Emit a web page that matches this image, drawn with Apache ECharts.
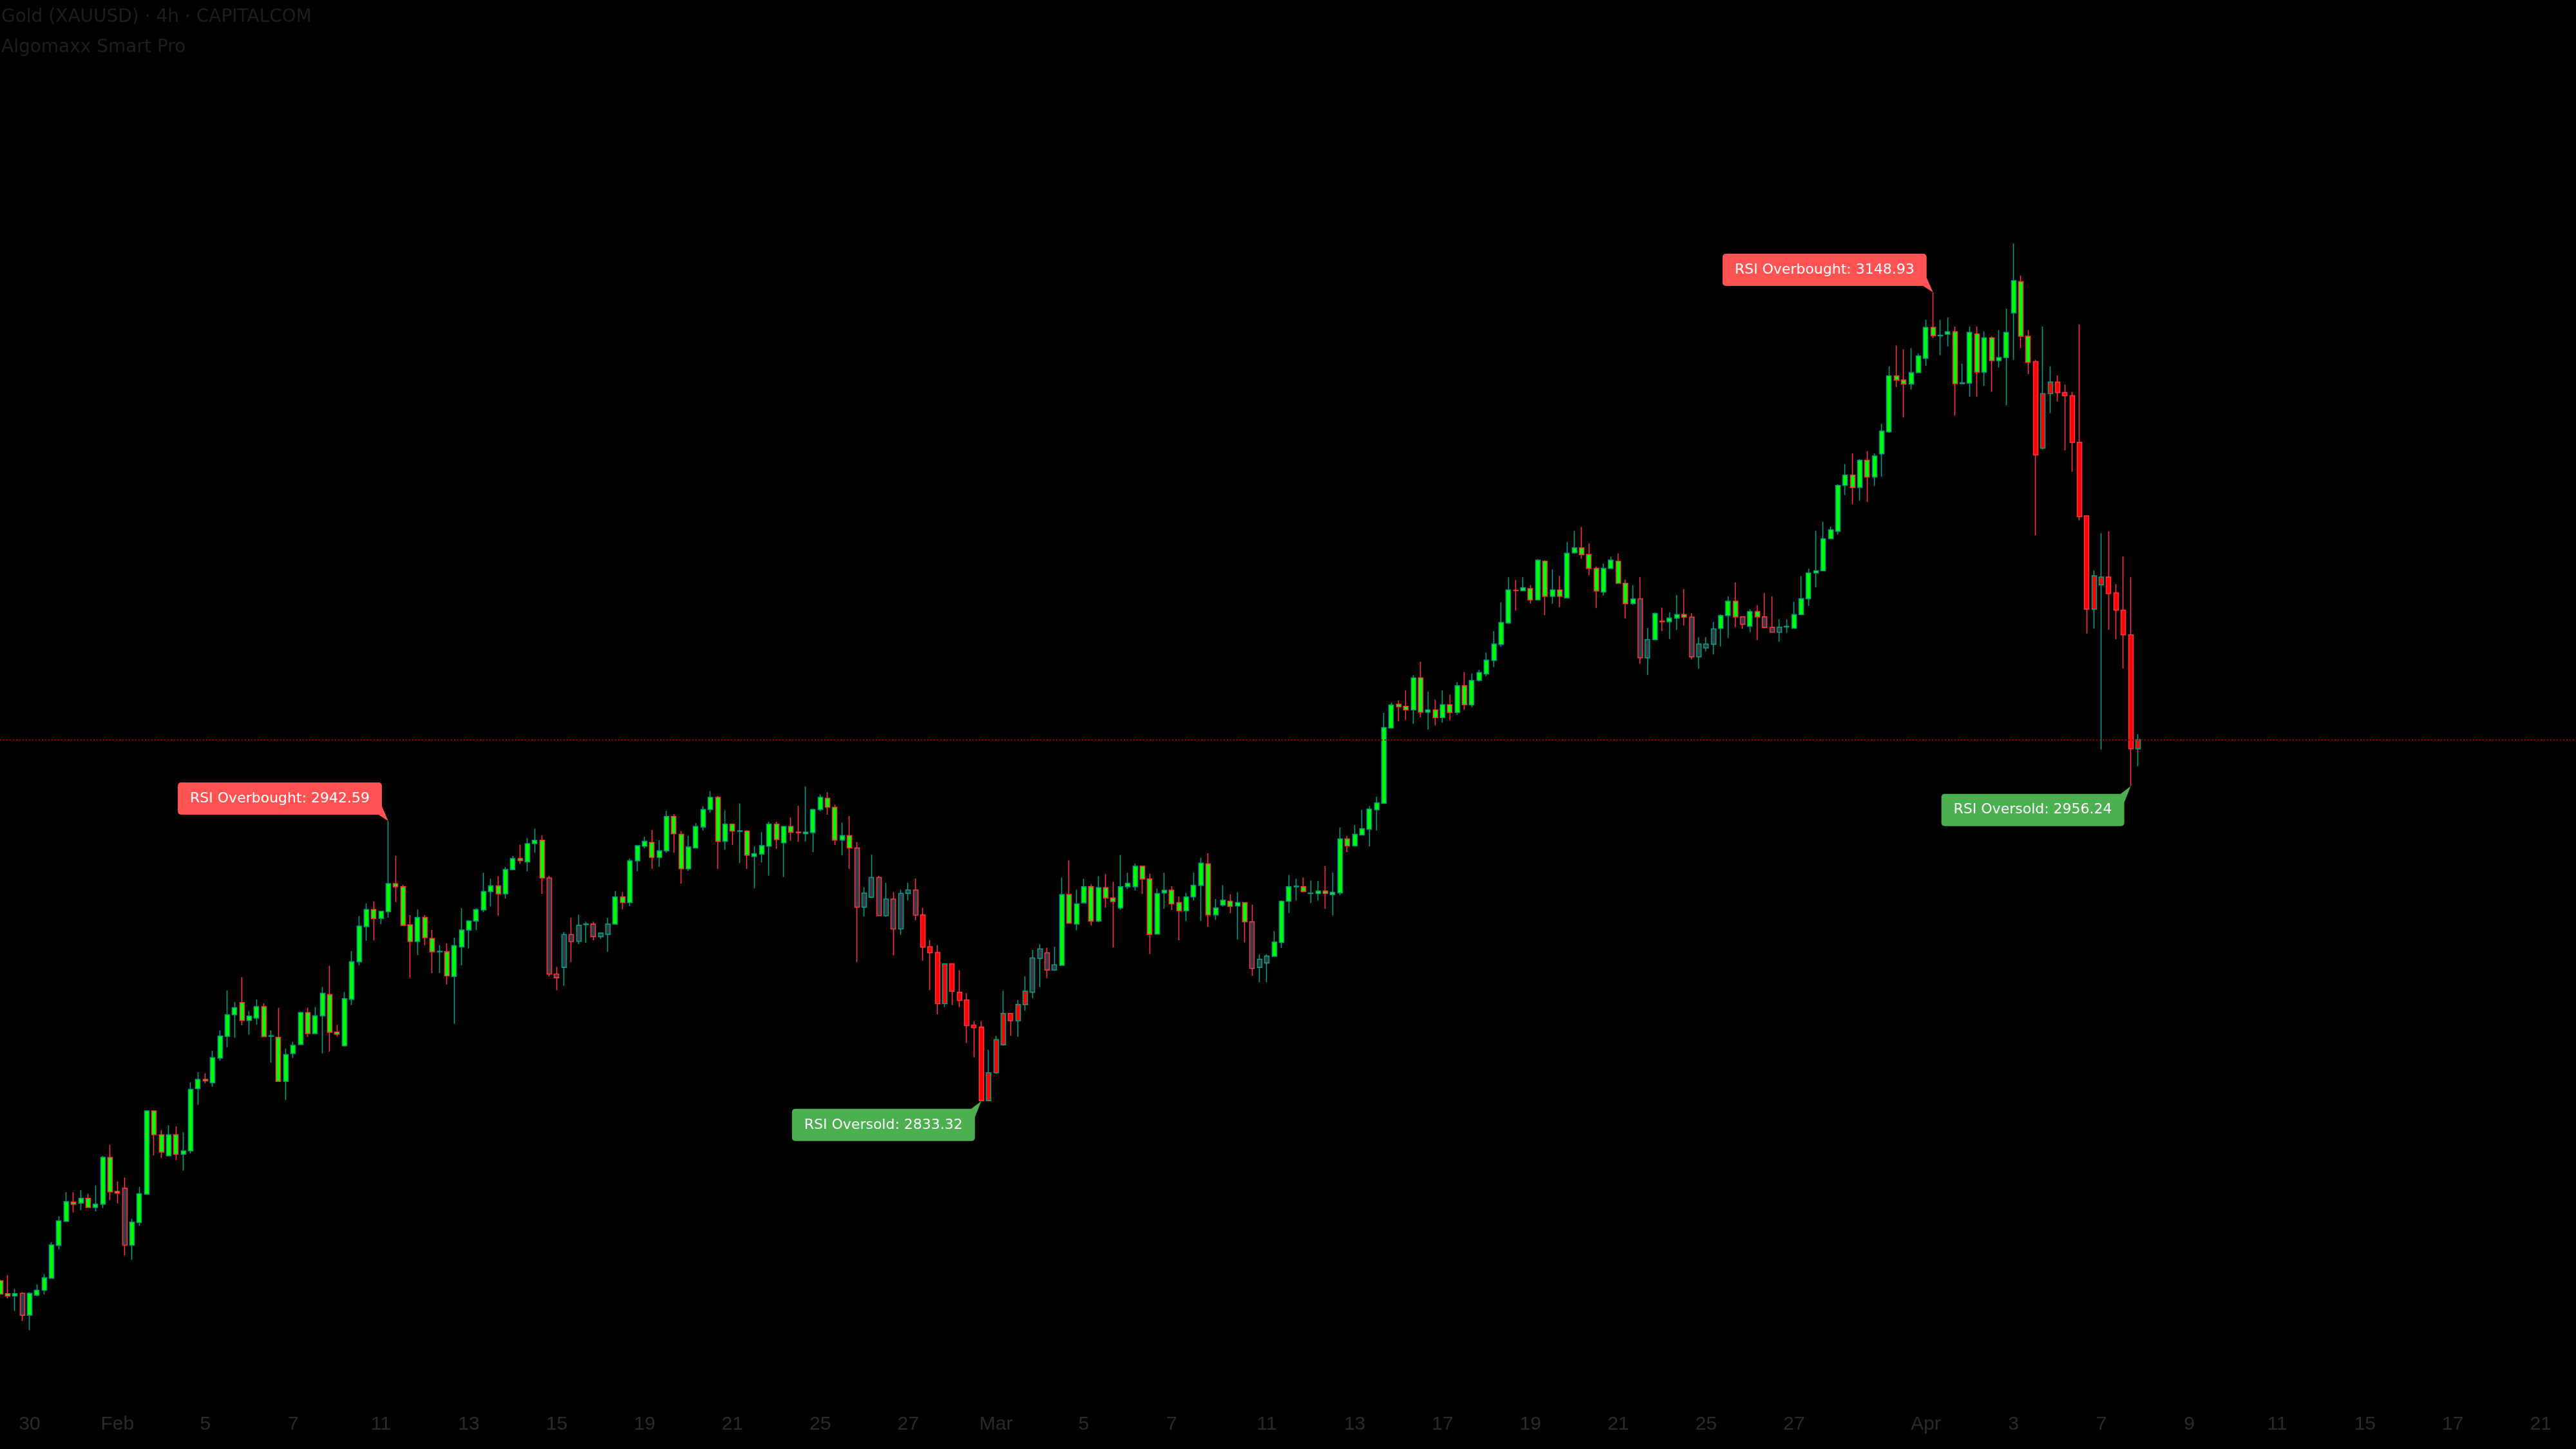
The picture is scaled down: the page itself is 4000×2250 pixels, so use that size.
<!DOCTYPE html>
<html><head><meta charset="utf-8">
<script src="https://cdn.jsdelivr.net/npm/echarts@6/dist/echarts.min.js"></script>
<style>html,body{margin:0;padding:0;background:#000;}#c{width:4000px;height:2250px;}</style>
</head><body><div id="c"></div>
<script>
// ---- data (Gold XAUUSD 4h) ----
const opens = [
2763.2,2758.2,2757.3,2758.3,2749.8,2757.6,2759.5,2764.2,2777.0,2786.4,
2793.9,2793.5,2795.4,2791.8,2793.1,2811.3,2798.1,2799.3,2777.1,2786.0,
2797.0,2829.5,2820.2,2812.0,2820.2,2812.6,2813.9,2838.2,2841.8,2840.5,
2850.1,2858.6,2867.0,2871.8,2864.8,2865.7,2870.2,2858.6,2858.2,2841.0,
2851.9,2855.4,2867.9,2859.7,2866.6,2874.9,2860.3,2854.9,2873.0,2887.7,
2901.4,2908.1,2904.6,2907.2,2918.2,2917.0,2902.1,2895.6,2905.0,2896.8,
2891.6,2891.6,2882.0,2893.5,2900.1,2903.6,2907.9,2915.1,2917.3,2914.2,
2923.7,2928.0,2926.7,2933.8,2935.1,2920.4,2882.9,2885.5,2898.3,2895.7,
2902.2,2902.4,2897.5,2898.4,2902.4,2913.0,2910.8,2927.1,2932.8,2934.3,
2928.4,2931.0,2944.4,2937.4,2924.0,2932.1,2940.3,2947.1,2951.9,2934.7,
2941.4,2938.6,2938.7,2928.8,2929.7,2932.8,2941.4,2934.1,2940.5,2938.3,
2937.7,2938.1,2947.1,2951.5,2948.0,2935.2,2936.9,2932.1,2909.0,2912.9,
2920.6,2905.7,2912.2,2900.5,2914.4,2915.7,2906.0,2893.6,2891.3,2871.4,
2886.9,2875.8,2872.8,2863.0,2862.2,2833.5,2844.4,2855.3,2867.5,2864.7,
2871.0,2875.8,2889.0,2891.2,2884.5,2886.3,2913.9,2902.4,2910.7,2917.0,
2903.6,2916.6,2912.6,2908.7,2917.0,2917.0,2925.0,2920.0,2898.5,2914.6,
2915.6,2910.8,2907.6,2913.0,2917.5,2925.9,2906.0,2909.8,2911.3,2909.5,
2910.8,2903.3,2885.5,2887.2,2889.8,2895.2,2911.3,2917.0,2917.0,2914.3,
2914.3,2915.3,2913.9,2914.6,2935.6,2932.9,2937.2,2939.4,2947.0,2949.5,
2978.9,2988.2,2987.4,2986.0,2998.5,2985.1,2986.0,2983.0,2988.0,2985.0,
2995.4,2988.0,2997.5,3000.0,3005.3,3011.5,3019.9,3032.7,3032.5,3033.3,
3028.9,3044.0,3030.3,3032.8,3029.7,3047.3,3049.2,3046.6,3041.2,3032.0,
3041.2,3044.0,3035.4,3027.5,3029.3,3006.3,3013.4,3020.6,3020.4,3021.8,
3023.2,3022.2,3006.7,3010.2,3011.6,3017.8,3022.8,3028.4,3022.3,3018.6,
3024.4,3022.3,3018.2,3016.3,3018.4,3017.8,3023.2,3029.4,3039.4,3040.3,
3052.8,3055.7,3073.6,3077.6,3072.8,3083.4,3076.9,3085.9,3094.5,3116.3,
3114.7,3113.2,3117.6,3123.2,3135.3,3132.0,3132.6,3133.6,3113.3,3113.5,
3132.7,3117.8,3131.2,3122.3,3123.5,3140.9,3153.1,3131.8,3121.9,3088.1,
3109.4,3113.9,3109.8,3108.6,3090.4,3061.7,3025.3,3034.8,3037.8,3031.7,
3024.9,3015.3,2970.8
];
const closes = [
2758.0,2757.3,2758.2,2749.8,2758.3,2759.5,2764.4,2777.2,2786.6,2794.1,
2793.1,2795.4,2791.8,2793.1,2811.4,2797.9,2797.4,2777.1,2786.1,2797.2,
2829.5,2820.2,2813.4,2820.2,2812.6,2813.9,2837.9,2841.8,2841.2,2850.3,
2858.7,2867.0,2869.8,2864.8,2866.5,2870.2,2858.5,2858.8,2841.0,2851.5,
2855.1,2867.9,2859.7,2866.6,2875.4,2860.2,2859.4,2873.3,2887.7,2901.6,
2908.1,2904.6,2907.4,2918.2,2917.0,2901.9,2895.6,2905.0,2897.1,2891.6,
2891.8,2882.2,2894.0,2900.1,2903.6,2908.1,2915.1,2917.3,2914.2,2923.7,
2928.0,2927.2,2933.8,2935.1,2920.4,2882.9,2881.5,2898.3,2895.6,2901.9,
2902.4,2897.5,2898.9,2902.4,2913.0,2910.8,2927.1,2933.0,2934.7,2928.4,
2931.0,2944.4,2937.7,2924.0,2932.5,2940.5,2947.1,2951.9,2934.7,2941.4,
2938.7,2938.8,2929.3,2929.9,2933.0,2941.4,2935.4,2940.5,2938.3,2938.1,
2938.3,2947.1,2951.9,2948.0,2935.2,2936.9,2932.1,2909.0,2914.5,2920.6,
2905.7,2912.2,2900.5,2914.4,2915.7,2905.9,2893.4,2891.2,2871.4,2886.9,
2876.2,2872.6,2862.8,2862.0,2833.5,2844.4,2857.3,2867.5,2864.7,2871.0,
2876.2,2889.2,2892.7,2884.5,2886.5,2913.9,2902.8,2910.3,2917.0,2903.6,
2916.6,2912.6,2911.2,2917.0,2918.3,2925.0,2920.0,2898.4,2914.3,2915.6,
2910.3,2907.6,2913.0,2917.5,2926.2,2906.0,2908.7,2911.7,2909.3,2910.8,
2903.3,2885.1,2888.7,2889.9,2895.4,2911.3,2917.0,2917.2,2915.1,2914.5,
2915.3,2914.3,2914.8,2935.6,2932.9,2937.4,2939.6,2947.3,2949.7,2979.1,
2987.9,2987.2,2986.0,2998.5,2985.1,2986.0,2983.0,2988.0,2985.0,2995.4,
2988.0,2997.5,3000.6,3005.4,3011.7,3020.1,3032.8,3032.6,3033.7,3028.9,
3044.4,3030.3,3032.8,3030.3,3047.1,3049.2,3046.6,3041.2,3032.4,3041.2,
3044.4,3035.4,3027.5,3029.3,3006.3,3013.4,3023.6,3020.4,3021.8,3023.2,
3022.2,3006.7,3011.7,3011.7,3017.6,3022.8,3028.4,3022.3,3019.4,3024.4,
3022.3,3018.2,3016.3,3018.2,3018.6,3023.2,3029.4,3039.4,3040.3,3052.8,
3056.3,3073.6,3077.6,3072.8,3083.4,3076.9,3085.1,3094.8,3116.3,3114.7,
3113.2,3117.6,3124.1,3135.3,3132.0,3132.2,3133.6,3113.3,3113.6,3133.3,
3117.8,3131.2,3122.3,3123.5,3133.3,3153.5,3131.8,3121.6,3085.5,3109.4,
3113.9,3109.8,3108.6,3090.4,3061.4,3025.3,3038.3,3037.8,3031.4,3024.9,
3015.3,2970.8,2974.4
];
const lows = [
2757.9,2756.3,2751.4,2747.5,2743.9,2757.1,2757.9,2764.2,2775.4,2786.3,
2789.9,2790.8,2791.6,2790.3,2791.6,2794.7,2793.4,2773.1,2771.3,2784.7,
2797.0,2812.1,2811.1,2811.8,2810.3,2806.2,2812.9,2831.9,2840.3,2838.9,
2849.1,2854.3,2858.0,2862.9,2859.2,2863.2,2858.2,2848.3,2841.0,2833.7,
2850.2,2855.4,2858.4,2859.7,2851.9,2852.6,2858.6,2854.9,2870.8,2886.3,
2895.9,2895.9,2902.4,2904.9,2911.0,2901.6,2881.5,2890.3,2894.0,2883.3,
2883.3,2878.8,2863.4,2886.3,2892.9,2899.9,2907.0,2909.3,2905.7,2912.4,
2923.6,2925.9,2923.0,2930.2,2914.2,2882.0,2876.6,2878.3,2887.6,2894.6,
2895.1,2896.1,2896.6,2891.6,2902.3,2908.1,2909.4,2923.0,2931.9,2923.9,
2924.8,2930.2,2930.2,2918.2,2923.1,2931.9,2938.9,2945.9,2923.9,2931.4,
2933.2,2926.1,2923.9,2916.4,2926.5,2921.3,2931.8,2920.8,2934.9,2934.5,
2934.6,2930.5,2946.4,2945.1,2933.2,2929.2,2923.9,2887.6,2905.4,2912.5,
2905.6,2905.3,2890.2,2898.2,2911.6,2903.9,2888.1,2876.6,2867.2,2870.0,
2870.8,2870.0,2856.1,2850.4,2833.32,2833.4,2844.0,2855.0,2858.8,2858.4,
2868.6,2873.5,2877.8,2881.4,2884.2,2886.2,2902.6,2900.0,2910.6,2901.8,
2903.2,2908.8,2893.3,2908.0,2916.0,2915.5,2914.1,2890.7,2898.4,2908.4,
2907.9,2896.1,2903.6,2911.6,2903.6,2901.4,2904.0,2909.3,2906.7,2896.4,
2895.2,2882.2,2879.7,2879.7,2889.6,2893.0,2906.7,2911.6,2914.8,2910.6,
2911.6,2908.4,2905.8,2913.7,2930.5,2932.8,2937.1,2932.7,2938.9,2949.4,
2978.8,2981.5,2982.0,2980.5,2983.1,2978.3,2980.0,2981.0,2982.0,2984.0,
2986.0,2987.0,2997.0,2999.1,3002.7,3010.6,3019.5,3024.7,3032.4,3027.5,
3028.8,3023.0,3027.5,3026.1,3029.6,3046.9,3045.0,3038.5,3025.7,3030.6,
3041.0,3035.3,3021.6,3027.0,3004.0,2999.6,3013.3,3016.7,3013.6,3017.2,
3019.0,3005.7,3002.1,3008.8,3007.6,3010.7,3014.1,3018.2,3017.6,3016.3,
3013.2,3017.8,3016.1,3012.6,3016.1,3017.7,3023.1,3026.6,3033.8,3040.2,
3052.7,3054.4,3069.8,3066.3,3067.6,3067.2,3073.4,3076.9,3094.1,3112.0,
3100.1,3111.0,3117.5,3120.3,3131.1,3124.4,3127.8,3100.8,3113.2,3108.2,
3108.2,3112.4,3110.1,3119.6,3104.8,3122.6,3127.2,3117.0,3054.1,3087.6,
3101.8,3106.3,3087.3,3078.9,3059.9,3015.8,3017.7,2970.4,3017.3,3013.5,
3002.1,2956.24,2964.0
];
const highs = [
2763.6,2765.5,2760.0,2758.7,2758.7,2761.8,2765.8,2778.3,2788.4,2797.8,
2797.8,2798.6,2797.2,2800.4,2811.9,2816.3,2802.0,2803.5,2787.4,2799.9,
2829.8,2829.8,2822.0,2823.9,2823.4,2821.2,2840.6,2844.6,2844.2,2853.0,
2860.9,2876.5,2872.0,2881.7,2868.4,2873.0,2871.5,2860.9,2869.7,2853.8,
2856.4,2868.2,2869.8,2870.1,2877.8,2886.2,2863.1,2875.9,2891.8,2905.5,
2910.5,2911.3,2907.6,2942.59,2929.0,2917.7,2905.9,2908.1,2905.9,2900.1,
2894.2,2894.9,2897.1,2908.6,2904.0,2908.6,2922.4,2920.1,2921.1,2924.7,
2929.0,2933.4,2936.0,2939.7,2937.0,2921.3,2885.7,2899.3,2904.8,2906.1,
2903.3,2903.3,2899.0,2904.8,2915.3,2914.9,2928.0,2933.2,2936.5,2939.1,
2935.2,2946.6,2945.3,2938.7,2936.9,2941.8,2948.4,2954.3,2952.4,2946.8,
2941.6,2949.5,2939.0,2932.7,2938.4,2942.4,2942.4,2940.6,2944.0,2948.6,
2956.1,2947.5,2953.0,2953.9,2949.0,2942.0,2944.6,2934.4,2916.8,2929.5,
2921.2,2918.5,2914.9,2915.8,2918.5,2920.2,2908.7,2896.3,2894.2,2887.0,
2887.0,2884.4,2875.4,2864.5,2864.5,2853.4,2858.8,2876.4,2867.6,2872.8,
2882.1,2892.3,2894.6,2893.2,2893.6,2920.6,2927.3,2915.8,2920.1,2917.9,
2921.1,2921.9,2918.9,2929.4,2922.5,2926.0,2925.1,2922.1,2916.3,2922.5,
2917.2,2913.2,2914.6,2922.5,2928.3,2930.0,2912.2,2917.5,2914.0,2914.8,
2910.9,2910.0,2890.6,2890.6,2899.7,2911.7,2921.6,2920.1,2920.6,2919.4,
2919.2,2925.0,2922.5,2940.1,2936.9,2941.1,2946.9,2948.5,2952.1,2984.8,
2988.9,2989.7,2993.7,2999.5,3004.8,2993.2,2990.0,2993.7,2991.9,2996.8,
3000.8,3000.2,3001.7,3008.4,3016.7,3028.0,3037.8,3036.6,3037.8,3034.7,
3044.8,3044.4,3040.9,3038.3,3051.5,3055.9,3057.4,3051.1,3042.0,3043.1,
3045.8,3047.1,3036.8,3034.7,3037.8,3018.0,3024.0,3025.9,3024.1,3030.8,
3033.1,3023.7,3014.4,3014.4,3020.3,3023.2,3030.3,3035.7,3022.4,3025.3,
3026.9,3031.6,3030.3,3021.3,3021.3,3028.2,3038.2,3041.1,3055.9,3059.4,
3057.6,3074.1,3081.9,3086.1,3083.8,3086.9,3086.1,3097.6,3120.1,3128.2,
3126.6,3127.2,3125.1,3138.2,3148.93,3138.2,3139.1,3135.6,3121.1,3135.6,
3135.6,3133.7,3131.8,3134.2,3142.6,3168.0,3155.5,3134.2,3122.6,3135.6,
3120.0,3116.5,3112.9,3110.1,3136.5,3061.8,3040.4,3055.0,3055.6,3035.1,
3045.9,3037.8,2976.5
];
// body fill state per candle: G = bullish trend, R = bearish trend, N = neutral
const fillState = [
'GGGNGGGGGG','GGGGGGGNGG','GGGGGGGGGG','GGGGGGGGGG','GGGGGGGGGG',
'GGGGGGGGGG','GGGGGGGGGG','GGGGGNNNNN','NNNNGGGGGG','GGGGGGGGGG',
'GGGGGGGGGG','GGGGGGGNNN','NNNNNNRRRR','RRRRRRRRRR','RNNNNGGGGG',
'GGGGGGGGGG','GGGGGGGGGG','GNNNGGGGGG','GGGGGGGGGG','GGGGGGGGGG',
'GGGGGGGGGG','GGGGGGGGGG','GGGGNNGGGG','GNNNNGGGNG','GNNNNGGGGG',
'GGGGGGGGGG','GGGGGGGGGG','GGGGGGGGRR','RRRRRRRRRR','RRR'
].join('').split('');
const slotCount = 353;   // bars + empty future bars on the time axis
const tickIdx  = [4,16,28,40,52,64,76,88,100,112,124,136,148,160,173,185,197,209,221,233,245,263,275,287,299,311,323,335,347];
const tickText = ['30','Feb','5','7','11','13','15','19','21','25','27','Mar','5','7','11','13','17','19','21','25','27','Apr','3','7','9','11','15','17','21'];
const signalIdx   = [53, 134, 264, 291];
const signalPrice = [2942.59, 2833.32, 3148.93, 2956.24];
const signalKind  = ['ob', 'os', 'ob', 'os'];

// ---- styling ----
const FILL = { G: '#00ff00', R: '#ff0000', N: '#363a45' };
const UP_BORDER = '#089981', DOWN_BORDER = '#f23645';
const tickMap = {};
tickIdx.forEach((ix, k) => { tickMap[ix] = tickText[k]; });
const cats = Array.from({ length: slotCount }, (_, i) => 'b' + i);
const candleData = opens.map((o, i) => {
  const f = FILL[fillState[i]];
  return { value: [o, closes[i], lows[i], highs[i]], itemStyle: { color: f, color0: f } };
});

const LABEL_FONT = 'DejaVu Sans';
const LABEL_SIZE = 22;
const mctx = document.createElement('canvas').getContext('2d');
function textW(t) { mctx.font = LABEL_SIZE + 'px "' + LABEL_FONT + '"'; return mctx.measureText(t).width; }

const yMin = 2715.15, yMax = 3263.02;

const chart = echarts.init(document.getElementById('c'), null, { renderer: 'canvas' });
chart.setOption({
  animation: false,
  backgroundColor: '#000000',
  grid: { left: -5.18, top: 0, width: 4012.9, height: 2180, containLabel: false, outerBoundsMode: 'none' },
  xAxis: {
    type: 'category', data: cats, boundaryGap: true,
    axisLine: { show: false }, axisTick: { show: false }, splitLine: { show: false },
    axisLabel: {
      interval: (i) => tickMap[i] !== undefined,
      formatter: (v, i) => tickMap[i] || '',
      color: '#2a2a2a', fontSize: 30, fontFamily: 'Liberation Sans', margin: 17
    }
  },
  yAxis: { type: 'value', min: yMin, max: yMax, show: false, splitLine: { show: false } },
  graphic: [
    { type: 'text', left: 2, top: 13, style: { text: 'Gold (XAUUSD) · 4h · CAPITALCOM', fill: '#1e1e1e', fontSize: 28, fontFamily: 'DejaVu Sans' } },
    { type: 'text', left: 2, top: 60, style: { text: 'Algomaxx Smart Pro', fill: '#1e1e1e', fontSize: 28, fontFamily: 'DejaVu Sans' } }
  ],
  series: [
    {
      type: 'candlestick',
      data: candleData,
      barWidth: 7.5,
      itemStyle: { borderColor: UP_BORDER, borderColor0: DOWN_BORDER, borderWidth: 1.6 },
      markLine: {
        symbol: 'none', silent: true, label: { show: false },
        lineStyle: { color: '#b00000', type: [2, 3], width: 2 },
        data: [{ yAxis: closes[closes.length - 1] }]
      }
    },
    {
      type: 'custom',
      z: 10,
      data: signalIdx.map((ix, k) => [ix, signalPrice[k], k]),
      encode: { x: 0, y: 1 },
      renderItem: (params, api) => {
        const k = api.value(2);
        const pt = api.coord([api.value(0), api.value(1)]);
        const ob = signalKind[k] === 'ob';
        const text = (ob ? 'RSI Overbought: ' : 'RSI Oversold: ') + signalPrice[k].toFixed(2);
        const w = textW(text) + 38, h = 50;
        const R = pt[0] - 10, L = R - w;
        let T, B, tail;
        if (ob) { B = pt[1] - 10; T = B - h; tail = [[R - 7, B - 1], [R, B - 13], [pt[0], pt[1]]]; }
        else { T = pt[1] + 12; B = T + h; tail = [[R - 7, T + 1], [R, T + 13], [pt[0], pt[1]]]; }
        const color = ob ? '#ff5252' : '#4caf50';
        return {
          type: 'group',
          children: [
            { type: 'rect', shape: { x: L, y: T, width: w, height: h, r: 5 }, style: { fill: color } },
            { type: 'polygon', shape: { points: tail }, style: { fill: color } },
            { type: 'text', style: { text: text, x: (L + R) / 2, y: (T + B) / 2, fill: '#ffffff',
              fontSize: LABEL_SIZE, fontFamily: LABEL_FONT, align: 'center', verticalAlign: 'middle' } }
          ]
        };
      }
    }
  ]
});
</script>
</body></html>
